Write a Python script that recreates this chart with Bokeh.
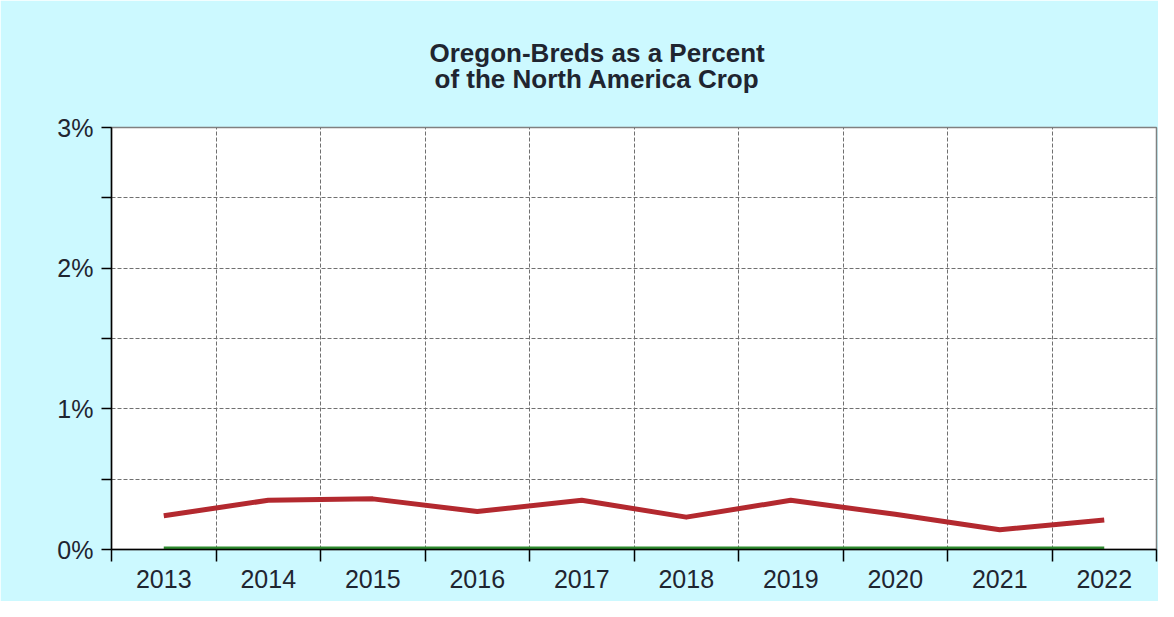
from bokeh.plotting import figure
from bokeh.models import FixedTicker, Range1d, Title
from bokeh.embed import file_html
from bokeh.resources import INLINE

# ---- data ----
years = ["2013", "2014", "2015", "2016", "2017", "2018", "2019", "2020", "2021", "2022"]
oregon_pct = [0.24, 0.35, 0.36, 0.27, 0.35, 0.23, 0.35, 0.25, 0.14, 0.21]
baseline_pct = [0.01, 0.01, 0.01, 0.01, 0.01, 0.01, 0.01, 0.01, 0.01, 0.01]
y_major_ticks = [0, 1, 2, 3]
y_minor_ticks = [0.5, 1.5, 2.5]
title_lines = ["Oregon-Breds as a Percent", "of the North America Crop"]

BG = "#ccf9ff"
FONT = "Liberation Sans"
TXT = "#1f2530"

n = len(years)
x_centers = [i + 0.5 for i in range(n)]
x_bounds = list(range(n + 1))

p = figure(width=1158, height=601, x_range=Range1d(0, n), y_range=Range1d(0, 3),
           output_backend="svg", toolbar_location=None,
           min_border_left=111, min_border_right=2, min_border_top=127, min_border_bottom=52)

p.background_fill_color = "white"
p.border_fill_color = BG
p.outline_line_color = "#808080"
p.outline_line_width = 1.5

# title: two lines above the frame (nearest line added first)
p.add_layout(Title(text=title_lines[1], align="left", offset=323, standoff=68,
                   text_font=FONT, text_font_style="bold", text_font_size="26px",
                   text_color=TXT, text_line_height=1.0), "above")
p.add_layout(Title(text=title_lines[0], align="left", offset=318, standoff=-80,
                   text_font=FONT, text_font_style="bold", text_font_size="26px",
                   text_color=TXT, text_line_height=1.0), "above")

# x axis: labels at category centres, ticks/grid at boundaries
p.xaxis.ticker = FixedTicker(ticks=x_centers, minor_ticks=x_bounds)
p.xaxis.major_label_overrides = {c: y for c, y in zip(x_centers, years)}
p.xaxis.major_tick_out = 0
p.xaxis.major_tick_in = 0
p.xaxis.minor_tick_out = 12
p.xaxis.minor_tick_in = 0
p.xaxis.minor_tick_line_color = "black"
p.xaxis.minor_tick_line_width = 1.5
p.xaxis.major_label_standoff = 8
p.xaxis.axis_line_color = "black"
p.xaxis.axis_line_width = 1.5
p.xaxis.major_label_text_font = FONT
p.xaxis.major_label_text_font_size = "25px"
p.xaxis.major_label_text_color = TXT

# y axis
p.yaxis.ticker = FixedTicker(ticks=y_major_ticks, minor_ticks=y_minor_ticks)
p.yaxis.major_label_overrides = {t: f"{t}%" for t in y_major_ticks}
p.yaxis.major_tick_out = 10
p.yaxis.major_tick_in = 0
p.yaxis.minor_tick_out = 10
p.yaxis.minor_tick_in = 0
p.yaxis.major_tick_line_width = 1.5
p.yaxis.minor_tick_line_width = 1.5
p.yaxis.minor_tick_line_color = "black"
p.yaxis.major_tick_line_color = "black"
p.yaxis.axis_line_color = "black"
p.yaxis.axis_line_width = 1.5
p.yaxis.major_label_standoff = 8
p.yaxis.major_label_text_font = FONT
p.yaxis.major_label_text_font_size = "25px"
p.yaxis.major_label_text_color = TXT

# grids (dashed)
p.xgrid.grid_line_color = None
p.xgrid.minor_grid_line_color = "#707070"
p.xgrid.minor_grid_line_dash = "4 2"
p.xgrid.minor_grid_line_width = 1
p.ygrid.grid_line_color = "#707070"
p.ygrid.grid_line_dash = "4 2"
p.ygrid.minor_grid_line_color = "#707070"
p.ygrid.minor_grid_line_dash = "4 2"

# series
p.line(x_centers, baseline_pct, line_color="#2e8b2e", line_width=3)
p.line(x_centers, oregon_pct, line_color="#b3292f", line_width=5, line_join="round", line_cap="butt")

open("out.html", "w").write(file_html(p, INLINE))
